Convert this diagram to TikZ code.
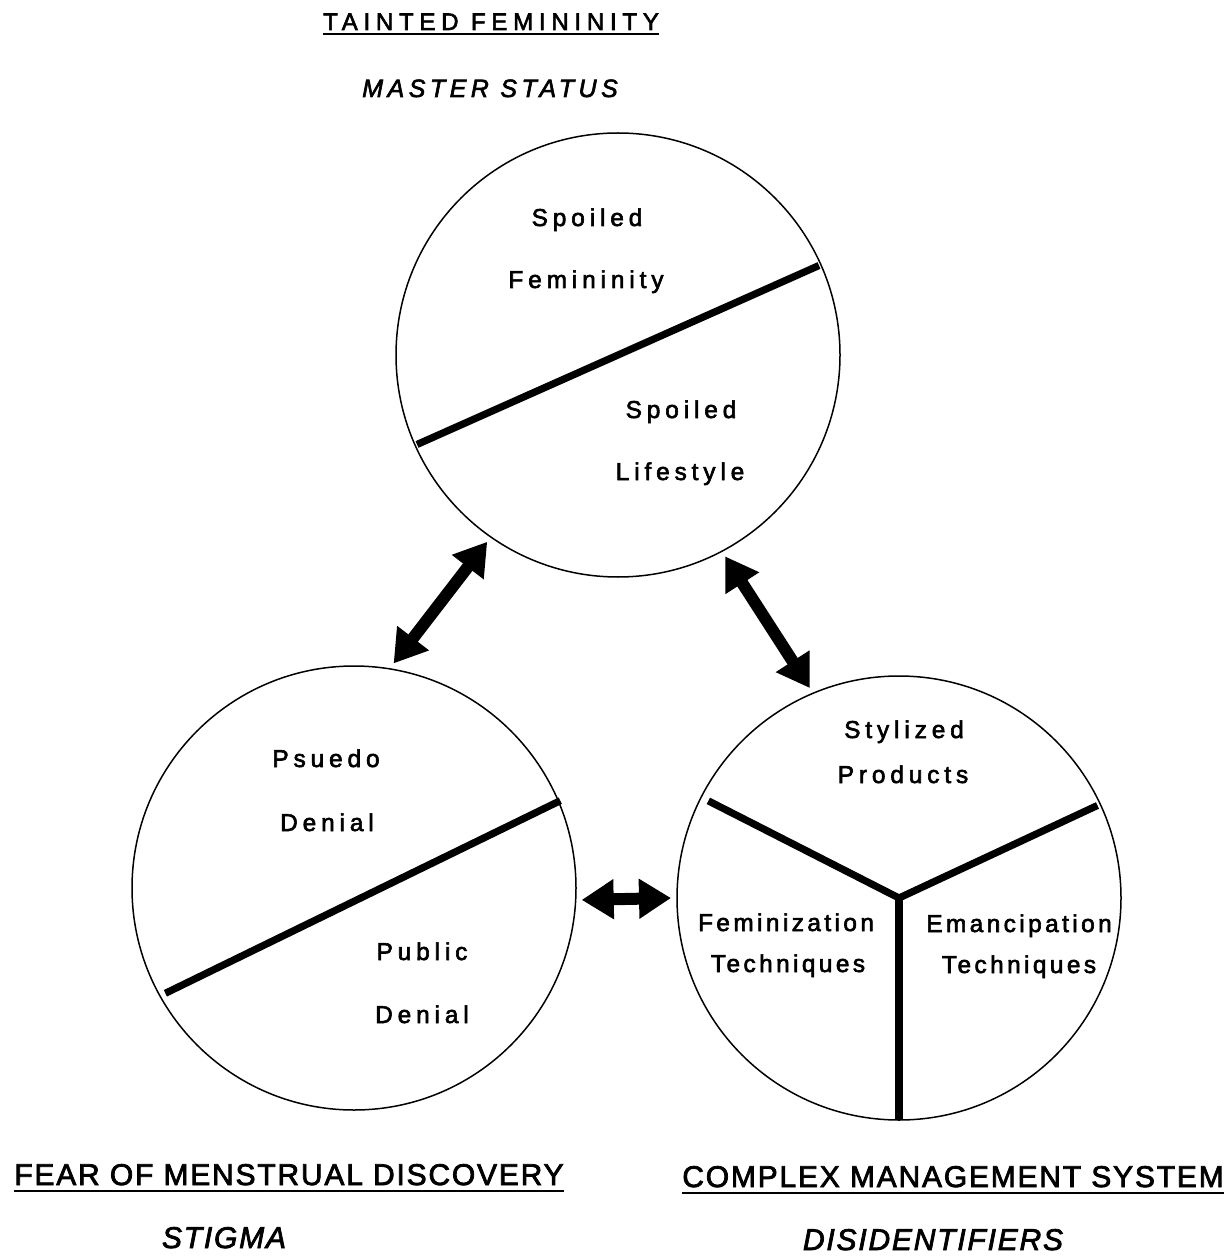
\documentclass[tikz,border=0pt]{standalone}
\usepackage{fontspec}
\setmainfont{Liberation Sans}
\newfontfamily\labelfont[LetterSpace=20,FakeBold=2.5]{Liberation Sans}
\newfontfamily\techfont[LetterSpace=14,FakeBold=2.5]{Liberation Sans}
\newfontfamily\titlefont[LetterSpace=24,FakeBold=2.5]{Liberation Sans}
\newfontfamily\statusfont[LetterSpace=18,FakeBold=2.5]{Liberation Sans}
\newfontfamily\systemfont[LetterSpace=6,FakeBold=2.5]{Liberation Sans}
\usetikzlibrary{arrows.meta}

\begin{document}
\begin{tikzpicture}[
    x=0.5pt, y=-0.5pt,
    CircleShape/.style={circle, draw, line width=0.75pt, minimum size=222pt,
        inner sep=0pt, outer sep=3pt},
    DividerLine/.style={line width=3.6pt},
    LinkArrow/.style={line width=6pt,
        {Triangle[length=16pt,width=19pt]}-{Triangle[length=16pt,width=19pt]}},
    LabelShape/.style={anchor=base, inner sep=0pt, font=\labelfont\fontsize{12.2}{14}\selectfont},
    TechShape/.style={anchor=base, inner sep=0pt, font=\techfont\fontsize{12.2}{14}\selectfont},
    TitleShape/.style={anchor=base, inner sep=0pt, font=\titlefont\fontsize{12}{14}\selectfont},
    StatusShape/.style={anchor=base, inner sep=0pt, font=\statusfont\itshape\fontsize{12.5}{14}\selectfont},
    SystemShape/.style={anchor=base, inner sep=0pt, font=\systemfont\fontsize{15}{18}\selectfont},
    KindShape/.style={anchor=base, inner sep=0pt, font=\systemfont\itshape\fontsize{15}{18}\selectfont},
    UnderLine/.style={line width=1pt}
]
\useasboundingbox (0,0) rectangle (1231,1256);

\node (top) [CircleShape] at (618,355) {};
\node (left) [CircleShape] at (354,888) {};
\node (right) [CircleShape] at (899,898) {};

\draw [DividerLine, shorten <=4pt, shorten >=4pt] (top.204) -- (top.24.5);
\draw [DividerLine, shorten <=6pt, shorten >=2pt] (left.209) -- (left.23);
\draw [DividerLine, shorten >=7pt] (right.center) -- (right.153);
\draw [DividerLine, shorten >=4.5pt] (right.center) -- (right.25.7);
\draw [DividerLine, shorten >=3pt] (right.center) -- (right.270);

\draw [LinkArrow] (top.235) -- (left.80);
\draw [LinkArrow] (top.-62) -- (right.113.6);
\draw [LinkArrow] (left.-3) -- (right.180);

\node (spoiledA) [LabelShape] at (587,226) {Spoiled};
\node (femininity) [LabelShape] at (586,288) {Femininity};
\node (spoiledB) [LabelShape] at (681,418) {Spoiled};
\node (lifestyle) [LabelShape] at (680,480) {Lifestyle};

\node (psuedo) [LabelShape] at (326,767) {Psuedo};
\node (denialA) [LabelShape] at (327,831) {Denial};
\node (public) [LabelShape] at (422,960) {Public};
\node (denialB) [LabelShape] at (422,1023) {Denial};

\node (stylized) [LabelShape] at (904,738) {Stylized};
\node (products) [LabelShape] at (903,783) {Products};
\node (feminization) [TechShape] at (786,931) {Feminization};
\node (techA) [TechShape] at (788,972) {Techniques};
\node (emancipation) [TechShape] at (1019,932) {Emancipation};
\node (techB) [TechShape] at (1019,973) {Techniques};

\node (tainted) [TitleShape] at (491,30) {TAINTED FEMININITY};
\draw [UnderLine] ([yshift=-2pt]tainted.base west) -- ([yshift=-2pt]tainted.base east);
\node (master) [StatusShape] at (490,97) {MASTER STATUS};

\node (fear) [SystemShape] at (289,1185) {FEAR OF MENSTRUAL DISCOVERY};
\draw [UnderLine] ([yshift=-3pt]fear.base west) -- ([yshift=-3pt]fear.base east);
\node (stigma) [KindShape] at (224,1248) {STIGMA};

\node (complex) [SystemShape] at (953,1187) {COMPLEX MANAGEMENT SYSTEM};
\draw [UnderLine] ([yshift=-3pt]complex.base west) -- ([yshift=-3pt]complex.base east);
\node (disident) [KindShape] at (933,1250) {DISIDENTIFIERS};
\end{tikzpicture}
\end{document}
